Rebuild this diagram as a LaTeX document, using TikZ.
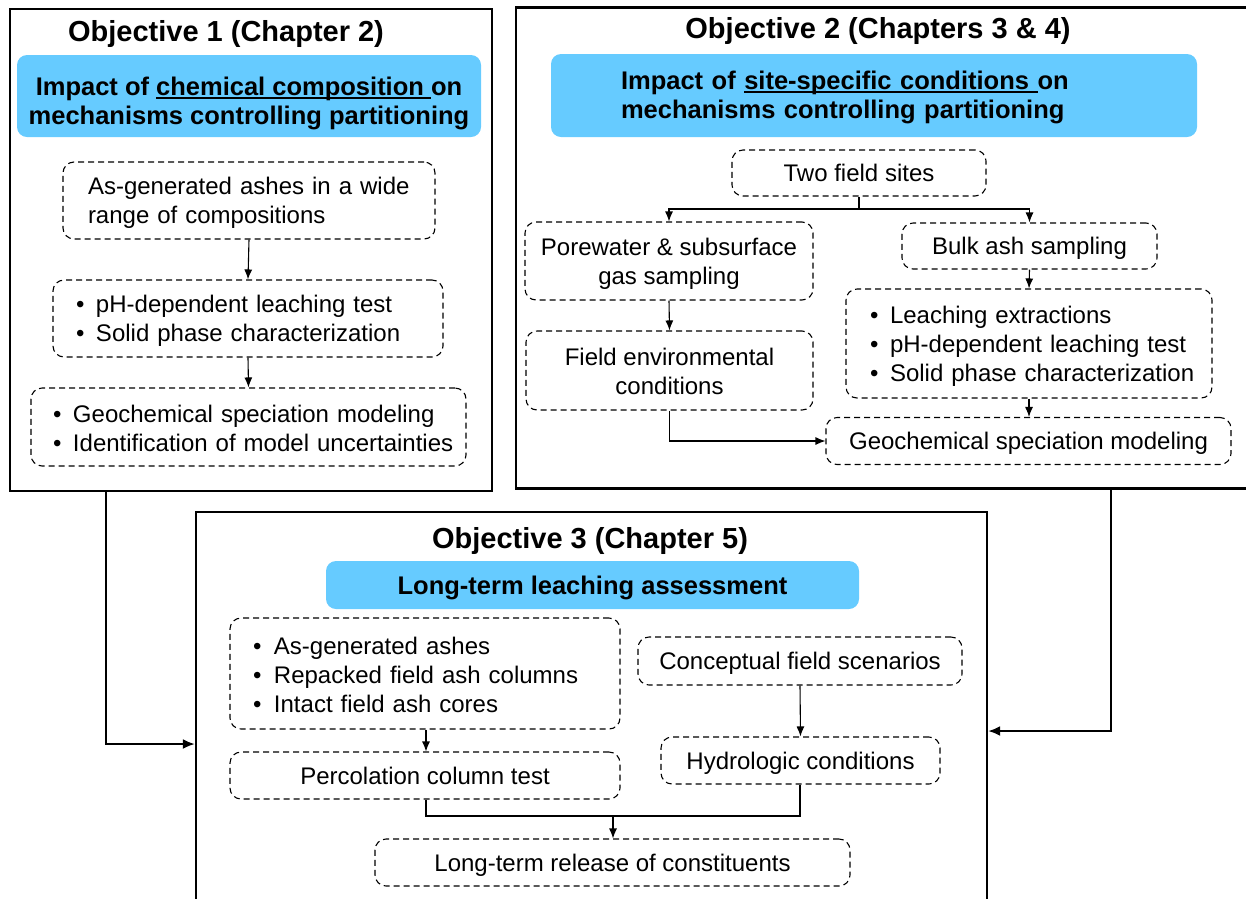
\documentclass[tikz,border=0pt]{standalone}
\usepackage{fontspec}
\setmainfont{Liberation Sans}
\usetikzlibrary{arrows.meta}
\definecolor{skyb}{HTML}{66CBFF}
\newsavebox{\ulbox}
\newcommand{\ultxt}[1]{\sbox{\ulbox}{#1}\rlap{\rule[-3.5pt]{\wd\ulbox}{1.6pt}}\usebox{\ulbox}}
\newcommand{\tstr}[1]{\rule{0pt}{#1}}
\newcommand{\bstr}[1]{\rule[-#1]{0pt}{#1}}
\newcommand{\bitem}[2][20pt]{\makebox[#1][l]{\textbullet}\mbox{#2}}
\begin{document}
\begin{tikzpicture}[x=1pt,y=-1pt,
  objbox/.style={draw=black,line width=2.2pt,inner sep=0pt},
  titletxt/.style={font=\fontsize{29}{33}\selectfont\bfseries,inner sep=0pt},
  bluebox/.style={fill=skyb,rounded corners=10pt,inner sep=0pt,font=\fontsize{25.5}{29}\selectfont\bfseries},
  dbox/.style={draw=black,dashed,dash pattern=on 6pt off 4pt,line width=1.1pt,rounded corners=11pt,inner sep=0pt,font=\fontsize{24}{29}\selectfont,align=center},
  one/.style={text height=17pt,text depth=0pt},
  conn/.style={line width=1.1pt,-{Latex[length=10pt,width=8pt]}},
  plainconn/.style={line width=1.1pt},
  bigconn/.style={line width=2.2pt,-{Latex[length=12pt,width=10pt]}},
]
\path[use as bounding box] (0,0) rectangle (1246,898);

% ---------- Objective 1 ----------
\node[objbox,minimum width=482pt,minimum height=482pt] (o1) at (251,250) {};
\node[titletxt] (t1) at (226,34) {Objective 1 (Chapter 2)};
\node[bluebox,minimum width=464pt,minimum height=82pt,align=center] (b1) at (249,96)
  {\tstr{33pt}Impact of \ultxt{chemical composition }on\\mechanisms controlling partitioning\bstr{2pt}};
\node[dbox,minimum width=372pt,minimum height=77pt,text width=322pt,align=left] (a1) at (249,200.5)
  {\tstr{22pt}\mbox{As-generated ashes in a wide}\\range of compositions\bstr{2.5pt}};
\node[dbox,minimum width=390pt,minimum height=77pt,text width=344pt,align=left] (a2) at (248,318.5)
  {\tstr{22pt}\bitem{pH-dependent leaching test}\\\bitem{Solid phase characterization}\bstr{2.5pt}};
\node[dbox,minimum width=435pt,minimum height=78pt,text width=391pt,align=left] (a3) at (248.5,427)
  {\tstr{22pt}\bitem{Geochemical speciation modeling}\\\bitem{Identification of model uncertainties}\bstr{2.5pt}};
\draw[conn] (a1.south) -- (a2.north);
\draw[conn] (a2.south) -- (a3.north);

% ---------- Objective 2 ----------
\node[objbox,minimum width=740pt,minimum height=481pt] (o2) at (886,248) {};
\node[titletxt] (t2) at (878,31) {Objective 2 (Chapters 3 \& 4)};
\node[bluebox,minimum width=646pt,minimum height=83pt,text width=506pt,align=left] (b2) at (874,95.5)
  {\tstr{22.5pt}Impact of \ultxt{site-specific conditions }on\\\mbox{mechanisms controlling partitioning}\bstr{2.5pt}};
\node[dbox,one,minimum width=254pt,minimum height=46pt] (fs) at (859,173) {Two field sites};
\node[dbox,minimum width=288pt,minimum height=78pt] (pw) at (669,261) {\tstr{22pt}Porewater \& subsurface\\gas sampling\bstr{2.5pt}};
\node[dbox,minimum width=287pt,minimum height=79pt] (fe) at (669.5,370.5) {\tstr{22pt}Field environmental\\conditions\bstr{2.5pt}};
\node[dbox,one,minimum width=255pt,minimum height=46pt] (ba) at (1029.5,246) {Bulk ash sampling};
\node[dbox,minimum width=366pt,minimum height=109pt,text width=318pt,align=left] (le) at (1029,343.5)
  {\tstr{22pt}\bitem{Leaching extractions}\\\bitem{pH-dependent leaching test}\\\bitem{Solid phase characterization}\bstr{2.5pt}};
\node[dbox,one,minimum width=405pt,minimum height=47pt] (gm) at (1028.5,441) {Geochemical speciation modeling};
\coordinate (split) at (859,209);
\draw[plainconn] (fs.south) -- (split);
\draw[conn] (split) -| (pw.north);
\draw[conn] (split) -| (ba.north);
\draw[conn] (pw.south) -- (fe.north);
\draw[conn] (ba.south) -- (le.north);
\draw[conn] (le.south) -- (gm.north -| le.south);
\draw[conn] (fe.south) |- (gm.west);

% ---------- Objective 3 ----------
\node[objbox,minimum width=791pt,minimum height=420pt] (o3) at (591.5,722) {};
\node[titletxt] (t3) at (590,541) {Objective 3 (Chapter 5)};
\node[bluebox,minimum width=533pt,minimum height=48pt,text height=18.3pt,text depth=0pt] (b3) at (592.5,585) {Long-term leaching assessment};
\node[dbox,minimum width=390pt,minimum height=111pt,text width=344pt,align=left] (sm) at (425,673.5)
  {\tstr{22pt}\bitem[21pt]{As-generated ashes}\\\bitem[21pt]{Repacked field ash columns}\\\bitem[21pt]{Intact field ash cores}\bstr{2.5pt}};
\node[dbox,one,minimum width=390pt,minimum height=47pt] (pc) at (425,775.5) {Percolation column test};
\node[dbox,one,minimum width=324pt,minimum height=48pt] (cf) at (800,661) {Conceptual field scenarios};
\node[dbox,one,minimum width=279pt,minimum height=47pt] (hc) at (800.5,760.5) {Hydrologic conditions};
\node[dbox,one,minimum width=475pt,minimum height=47pt] (lt) at (612.5,862.5) {Long-term release of constituents};
\coordinate (jl) at (426,816);
\coordinate (jr) at (800,816);
\coordinate (jm) at (613,816);
\draw[conn] (sm.south -| jl) -- (pc.north -| jl);
\draw[conn] (cf.south) -- (hc.north);
\draw[plainconn] (pc.south -| jl) -- (jl) -- (jr) -- (hc.south -| jr);
\draw[conn] (jm) -- (lt.north -| jm);

% ---------- between objectives ----------
\coordinate (c1) at (106,744);
\coordinate (c2) at (1111,731);
\draw[bigconn] (o1.south -| c1) -- (c1) -- (o3.west |- c1);
\draw[bigconn] (o2.south -| c2) -- (c2) -- (o3.east |- c2);
\end{tikzpicture}
\end{document}
